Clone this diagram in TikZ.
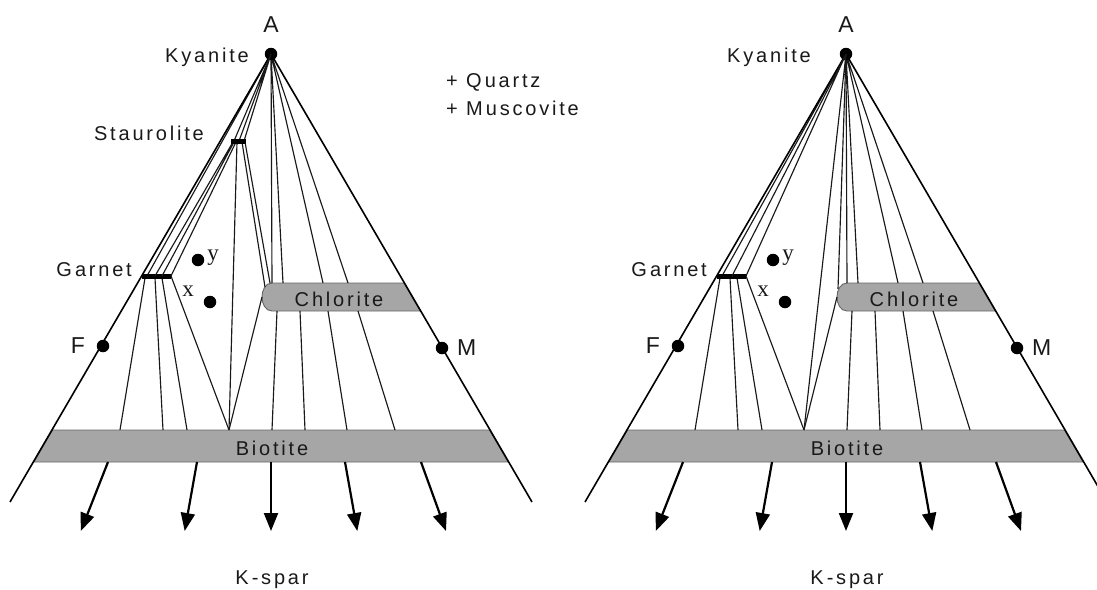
\documentclass[tikz,border=0pt]{standalone}
\usepackage{fontspec}
\setmainfont{Liberation Sans}
\newfontfamily\labfont[LetterSpace=14]{Liberation Sans}
\newfontfamily\varfont{Liberation Serif}
\usetikzlibrary{arrows.meta,calc}

\tikzset{
  tie/.style={line width=1.15pt, black!90},
  rim/.style={line width=1.6pt, black},
  band/.style={fill=black!35, draw=black!60, line width=0.9pt},
  phase/.style={line width=5pt, black},
  pt/.style={circle, fill=black, inner sep=0pt, minimum size=12.5pt},
  lab/.style={font=\labfont\fontsize{20}{24}\selectfont, text=black!90, inner sep=0pt},
  corner/.style={font=\fontsize{23}{27}\selectfont, text=black!90, inner sep=0pt},
  var/.style={font=\varfont\fontsize{23}{27}\selectfont, text=black!90, inner sep=0pt},
  flow/.style={line width=2.2pt, -{Triangle[length=18pt,width=14pt]}},
}

% One AFM-type projection; #1 = right end of the Kyanite label
\newcommand\drawpanel[1]{%
  \coordinate (A) at (271,54);
  \coordinate (BL) at (10,502);
  \coordinate (BR) at (532,502);
  % Biotite band between the two sides
  \coordinate (bt1) at (52.5,430); \coordinate (bt2) at (489.5,430);
  \coordinate (bt3) at (508.1,462); \coordinate (bt4) at (33.9,462);
  \path[band] (bt1) -- (bt2) -- (bt3) -- (bt4) -- cycle;
  % Chlorite band with a rounded left end
  \coordinate (ch1) at (404,283); \coordinate (ch2) at (272,283);
  \coordinate (Ct) at (262,297);
  \coordinate (ch3) at (272,311); \coordinate (ch4) at (420.3,311);
  \path[band] (ch1) -- (ch2) to[out=180,in=90] (Ct) to[out=-90,in=180] (ch3) -- (ch4) -- cycle;
  % garnet bar ends and the biotite junction
  \coordinate (G1) at (142,276); \coordinate (G2) at (171,276);
  \coordinate (J) at (229,430);
  % garnet - biotite tie lines
  \coordinate (g1) at (145,278); \coordinate (b1) at (120,430);
  \coordinate (g2) at (155,278); \coordinate (b2) at (163,430);
  \coordinate (g3) at (162,278); \coordinate (b3) at (187,430);
  \draw[tie] (g1) -- (b1) (g2) -- (b2) (g3) -- (b3) (G2) -- (J) (J) -- (Ct);
  % kyanite - garnet and kyanite - chlorite tie lines
  \coordinate (g0) at (147,276);
  \coordinate (c1) at (272,283); \coordinate (c2) at (283,283);
  \coordinate (c3) at (323,283); \coordinate (c4) at (348,283);
  \draw[tie] (A) -- (g0) (A) -- (c1) (A) -- (c2) (A) -- (c3) (A) -- (c4);
  % chlorite - biotite tie lines
  \coordinate (d1) at (277,311); \coordinate (e1) at (272,430);
  \coordinate (d2) at (300,311); \coordinate (e2) at (305,430);
  \coordinate (d3) at (328,311); \coordinate (e3) at (347,430);
  \coordinate (d4) at (358,311); \coordinate (e4) at (395,430);
  \draw[tie] (d1) -- (e1) (d2) -- (e2) (d3) -- (e3) (d4) -- (e4);
  % sides of the projection
  \draw[rim] (BL) -- (A) -- (BR);
  % garnet composition range
  \draw[phase] (G1) -- (G2);
  % points
  \node[pt] (Ky) at (A) {};
  \node[pt] (Fp) at (103,346) {};
  \node[pt] (Mp) at (442,348) {};
  \node[pt] (yp) at (198,260) {};
  \node[pt] (xp) at (210,302) {};
  % labels
  \node[corner, anchor=base] (Alab) at (271,32) {A};
  \node[lab, anchor=base east] (Kylab) at (#1,62) {K\kern3pt yanite};
  \node[lab, anchor=base east] (Glab) at (132,276) {G\kern3pt arnet};
  \node[corner, anchor=base east] (Flab) at (85,353) {F};
  \node[corner, anchor=base west] (Mlab) at (457,355) {M};
  \node[var, anchor=base] (ylab) at (213,260) {y};
  \node[var, anchor=base] (xlab) at (188,296) {x};
  \node[lab, anchor=base] (Chlab) at (339,306) {C\kern3pt hlorite};
  \node[lab, anchor=base] (Bilab) at (272,455) {Biotite};
  \node[lab, anchor=base] (Kslab) at (272,584) {K\kern3pt -spar};
  % projection away from K-feldspar
  \coordinate (s1) at (108,462); \coordinate (t1) at (80.8,531);
  \coordinate (s2) at (197,462); \coordinate (t2) at (184.7,531);
  \coordinate (s3) at (271,462); \coordinate (t3) at (271,531);
  \coordinate (s4) at (345,462); \coordinate (t4) at (357.3,531);
  \coordinate (s5) at (421,462); \coordinate (t5) at (446,531);
  \draw[flow] (s1) -- (t1);
  \draw[flow] (s2) -- (t2);
  \draw[flow] (s3) -- (t3);
  \draw[flow] (s4) -- (t4);
  \draw[flow] (s5) -- (t5);
}

\begin{document}
\begin{tikzpicture}[x=1pt,y=-1pt]
\useasboundingbox (0,0) rectangle (1097,589);

% with staurolite
\begin{scope}[name prefix=L-]
  \drawpanel{249}
  \coordinate (S1) at (231,141); \coordinate (S2) at (246,141);
  \coordinate (sa) at (234,141); \coordinate (sb) at (239,141); \coordinate (sc) at (244,141);
  \draw[tie] (A) -- (sa) (A) -- (sb) (A) -- (sc);
  \coordinate (sj) at (237,142);
  \draw[tie] (sj) -- (J);
  \coordinate (sg1) at (233,142); \coordinate (gg1) at (155,276);
  \coordinate (sg2) at (234,142); \coordinate (gg2) at (162,276);
  \coordinate (sg3) at (236,142);
  \draw[tie] (sg1) -- (gg1) (sg2) -- (gg2) (sg3) -- (G2);
  \coordinate (sk1) at (242,142); \coordinate (ck1) at (265,287);
  \coordinate (sk2) at (245,142); \coordinate (ck2) at (270,283);
  \draw[tie] (sk1) -- (ck1) (sk2) -- (ck2);
  \draw[phase] (S1) -- (S2);
  \node[lab, anchor=base east] (Stlab) at (204,140) {Staurolite};
  \node[lab, anchor=base west] (Qz) at (446,87) {+ Q\kern3pt uartz};
  \node[lab, anchor=base west] (Ms) at (446,115) {+ M\kern3pt uscovite};
\end{scope}

% without staurolite
\begin{scope}[shift={(575,0)}, name prefix=R-]
  \drawpanel{236}
  \coordinate (gm) at (157,276);
  \coordinate (ct2) at (263,289);
  \draw[tie] (A) -- (gm) (A) -- (G2) (A) -- (J) (A) -- (ct2);
\end{scope}
\end{tikzpicture}
\end{document}
